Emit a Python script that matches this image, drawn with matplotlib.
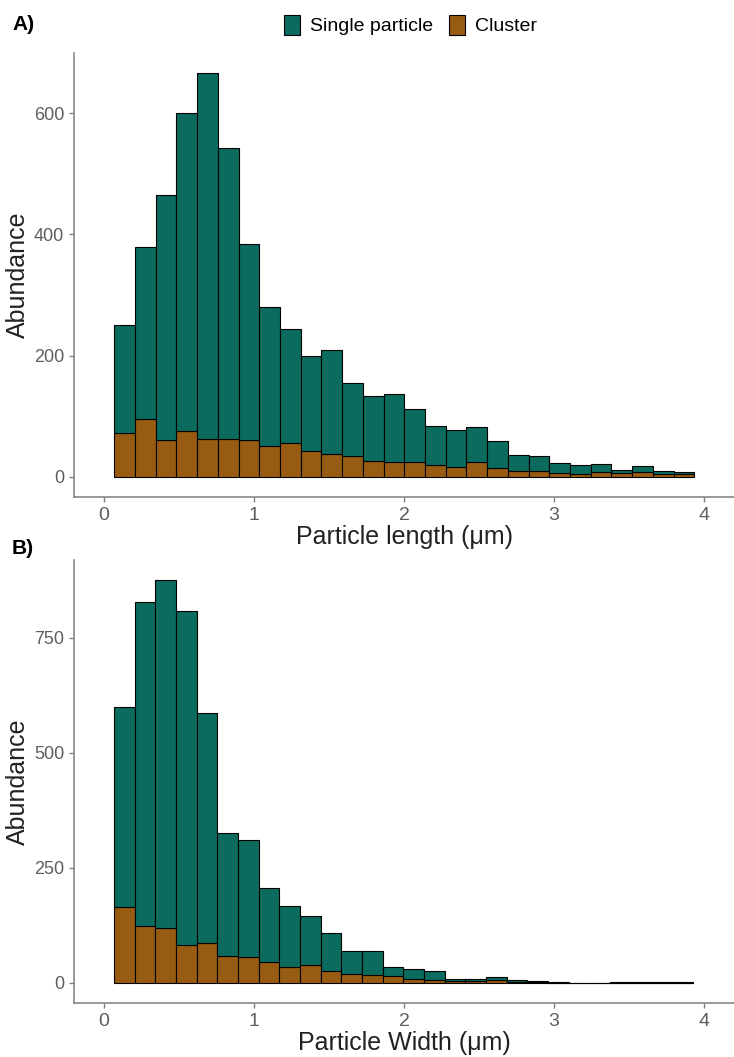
import numpy as np
import matplotlib
matplotlib.use("Agg")
import matplotlib.pyplot as plt
from matplotlib.patches import Patch

plt.rcParams['font.family'] = ['Liberation Sans', 'DejaVu Sans']

# data (28 bins each)
length_range = (0.069, 3.935)
length_single = [177, 284, 405, 526, 604, 480, 324, 229, 189, 158, 172, 121, 107, 111,
                 87, 65, 60, 58, 44, 27, 25, 17, 16, 13, 5, 10, 4, 4]
length_cluster = [73, 96, 60, 75, 62, 62, 60, 51, 55, 42, 37, 34, 26, 25,
                  25, 19, 17, 24, 15, 9, 9, 6, 4, 8, 7, 8, 5, 4]

width_range = (0.067, 3.925)
width_single = [435, 705, 756, 725, 499, 266, 255, 160, 132, 108, 82, 50, 53, 20,
                22, 18, 5, 5, 6, 4, 3, 1, 0, 0, 1, 1, 1, 1]
width_cluster = [165, 123, 119, 83, 87, 59, 56, 46, 35, 38, 26, 20, 17, 15,
                 9, 7, 3, 3, 6, 2, 1, 0, 0, 0, 0, 0, 0, 0]

x_ticks = [0, 1, 2, 3, 4]
length_yticks = [0, 200, 400, 600]
width_yticks = [0, 250, 500, 750]

teal = '#0B6B5F'
brown = '#985B12'
grey = '#7F7F7F'


def _hist(ax, rng, single, cluster, yticks, xlabel):
	n = len(single)
	edges = np.linspace(rng[0], rng[1], n + 1)
	w = edges[1] - edges[0]
	ax.bar(edges[:-1], cluster, width=w, align='edge', color=brown,
		edgecolor='black', linewidth=0.8)
	ax.bar(edges[:-1], single, bottom=cluster, width=w, align='edge', color=teal,
		edgecolor='black', linewidth=0.8)

	top = max(np.array(single) + np.array(cluster))
	ax.set_ylim(-0.05 * top, 1.05 * top)
	ax.set_xlim(-0.2, 4.2)
	ax.set_xticks(x_ticks)
	ax.set_yticks(yticks)

	for s in ['top', 'right']:
		ax.spines[s].set_visible(False)
	for s in ['left', 'bottom']:
		ax.spines[s].set_color(grey)
		ax.spines[s].set_linewidth(1.1)
	ax.tick_params(colors=grey, labelcolor='#5E5E5E', labelsize=14,
		length=3.5, width=1.0)
	ax.tick_params(axis='y', labelsize=13)

	ax.set_xlabel(xlabel, fontsize=18, color='#222222', labelpad=1)
	ax.set_ylabel('Abundance', fontsize=18, color='#222222', labelpad=3)


fig = plt.figure(figsize=(7.34, 10.57), dpi=100)
axA = fig.add_axes([74 / 734, (1057 - 497) / 1057, (734 - 74) / 734, 444 / 1057])
axB = fig.add_axes([74 / 734, (1057 - 1003) / 1057, (734 - 74) / 734, 443 / 1057])

_hist(axA, length_range, length_single, length_cluster, length_yticks,
	'Particle length (\u03bcm)')
_hist(axB, width_range, width_single, width_cluster, width_yticks,
	'Particle Width (\u03bcm)')

fig.text(12 / 734, 1 - 25 / 1057, 'A)', fontsize=15, fontweight='bold',
	va='center', ha='left')
fig.text(12 / 734, 1 - 548 / 1057, 'B)', fontsize=15, fontweight='bold',
	va='center', ha='left')

handles = [Patch(facecolor=teal, edgecolor='black', linewidth=0.8, label='Single particle'),
	Patch(facecolor=brown, edgecolor='black', linewidth=0.8, label='Cluster')]
fig.legend(handles=handles, loc='center', bbox_to_anchor=(0.559, 1 - 25 / 1057),
	ncol=2, frameon=False, prop={'size': 14},
	handlelength=0.85, handleheight=1.2, handletextpad=0.5, columnspacing=0.8)

plt.savefig('out.png', dpi=100)
